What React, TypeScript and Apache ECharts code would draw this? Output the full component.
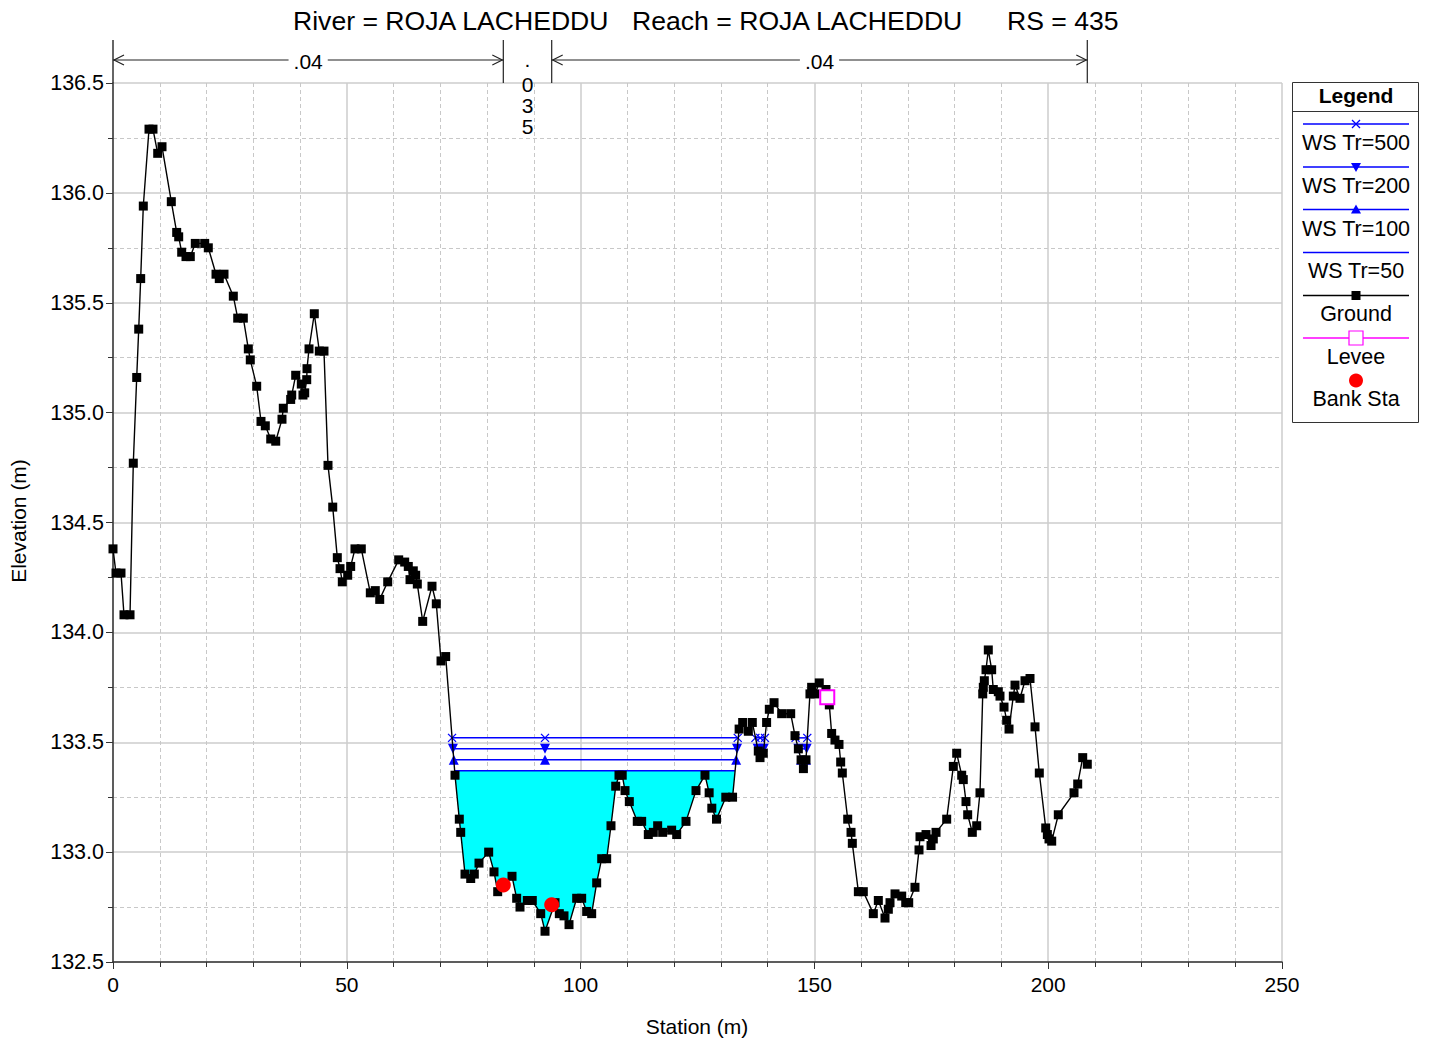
import React, { useEffect, useRef } from "react";
import * as echarts from "echarts";

const FONT = "'Liberation Sans', Arial, Helvetica, sans-serif";

// Ground profile (station m, elevation m)
const groundSta = [
  0.0, 0.64, 1.71, 2.35, 3.64, 4.34, 5.07, 5.5, 5.92, 6.48, 7.7, 8.55, 9.56, 10.48, 12.47, 13.62, 14.05, 14.69, 15.61, 16.53,
  17.6, 19.61, 20.38, 22.03, 22.73, 23.74, 25.73, 26.67, 27.87, 28.94, 29.36, 30.73, 31.65, 32.57, 33.73, 34.8, 36.14, 36.42, 38.0, 38.22,
  39.07, 40.27, 40.63, 41.0, 41.43, 41.49, 41.92, 43.05, 44.12, 45.12, 45.98, 46.99, 47.97, 48.55, 49.04, 50.19, 50.83, 51.75, 53.1, 55.03,
  56.09, 57.04, 58.75, 61.1, 62.38, 63.15, 63.52, 64.22, 64.73, 65.08, 66.23, 68.22, 69.14, 70.15, 71.15, 73.14, 74.06, 74.36, 75.28, 76.5,
  77.27, 78.27, 80.34, 81.48, 82.27, 85.33, 86.33, 87.04, 88.6, 89.67, 91.47, 92.39, 94.53, 95.45, 96.45, 97.52, 99.16, 100.23, 101.3, 102.37,
  103.44, 104.51, 105.58, 106.5, 107.51, 108.21, 108.9, 109.5, 110.42, 112.12, 113.06, 114.48, 115.55, 116.48, 117.55, 119.47, 120.55, 122.54, 124.68, 126.6,
  127.49, 128.06, 129.06, 131.05, 132.5, 133.9, 134.66, 135.87, 136.72, 138.0, 138.37, 139.07, 139.78, 140.36, 141.37, 143.0, 144.93, 145.85, 146.57, 147.15,
  147.65, 148.2, 149.05, 149.41, 150.11, 151.04, 152.47, 153.19, 153.69, 154.4, 155.26, 155.62, 155.97, 157.12, 157.83, 158.11, 159.4, 160.46, 162.6, 163.67,
  165.1, 165.81, 166.17, 167.24, 168.67, 169.53, 170.17, 171.51, 172.37, 172.58, 173.87, 174.94, 175.43, 176.01, 178.29, 179.71, 180.43, 181.5, 181.84, 182.42,
  182.78, 183.77, 184.71, 185.41, 186.0, 186.12, 186.34, 186.7, 187.19, 187.91, 188.26, 189.33, 189.69, 190.55, 191.12, 191.62, 192.54, 192.9, 193.97, 195.04,
  196.11, 197.18, 198.1, 199.47, 199.82, 200.17, 200.75, 202.16, 205.52, 206.31, 207.38, 208.36,
];
const groundElev = [
  134.38, 134.27, 134.27, 134.08, 134.08, 134.77, 135.16, 135.38, 135.61, 135.94, 136.29, 136.29, 136.18, 136.21, 135.96, 135.82, 135.8, 135.73, 135.71, 135.71,
  135.77, 135.77, 135.75, 135.63, 135.61, 135.63, 135.53, 135.43, 135.43, 135.29, 135.24, 135.12, 134.96, 134.94, 134.88, 134.87, 134.97, 135.02, 135.06, 135.08,
  135.17, 135.13, 135.08, 135.09, 135.15, 135.2, 135.29, 135.45, 135.28, 135.28, 134.76, 134.57, 134.34, 134.29, 134.23, 134.26, 134.3, 134.38, 134.38, 134.18,
  134.19, 134.15, 134.23, 134.33, 134.32, 134.3, 134.24, 134.28, 134.26, 134.22, 134.05, 134.21, 134.13, 133.87, 133.89, 133.35, 133.15, 133.09, 132.9, 132.88,
  132.9, 132.95, 133.0, 132.91, 132.82, 132.89, 132.79, 132.75, 132.78, 132.78, 132.72, 132.64, 132.77, 132.72, 132.71, 132.67, 132.79, 132.79, 132.73, 132.72,
  132.86, 132.97, 132.97, 133.12, 133.3, 133.35, 133.35, 133.28, 133.23, 133.14, 133.14, 133.08, 133.09, 133.12, 133.09, 133.1, 133.08, 133.14, 133.28, 133.35,
  133.27, 133.2, 133.15, 133.25, 133.25, 133.56, 133.59, 133.55, 133.59, 133.46, 133.43, 133.45, 133.59, 133.65, 133.68, 133.63, 133.63, 133.53, 133.47, 133.42,
  133.38, 133.42, 133.72, 133.75, 133.72, 133.77, 133.74, 133.67, 133.54, 133.51, 133.49, 133.41, 133.36, 133.15, 133.09, 133.04, 132.82, 132.82, 132.72, 132.78,
  132.7, 132.74, 132.77, 132.81, 132.8, 132.77, 132.77, 132.84, 133.01, 133.07, 133.08, 133.03, 133.06, 133.09, 133.15, 133.39, 133.45, 133.35, 133.33, 133.23,
  133.17, 133.09, 133.12, 133.27, 133.72, 133.75, 133.78, 133.83, 133.92, 133.83, 133.74, 133.73, 133.71, 133.66, 133.6, 133.56, 133.71, 133.76, 133.7, 133.78,
  133.79, 133.57, 133.36, 133.11, 133.08, 133.06, 133.05, 133.17, 133.27, 133.31, 133.43, 133.4,
];

// Bank stations and levee
const bankSta = [83.47, 93.82];
const bankElev = [132.85, 132.76];
const leveeSta = [152.75];
const leveeElev = [133.705];

// Water surfaces: Tr=500, 200, 100, 50
const wsNames = ["WS Tr=500", "WS Tr=200", "WS Tr=100", "WS Tr=50"];
const wsLevels = [133.52, 133.47, 133.42, 133.37];
const wsSegments = [
  [[72.51, 92.39, 133.6], [137.39, 138.4, 139.43], [145.97, 148.48]],
  [[72.7, 92.39, 133.45], [137.87, 139.17], [146.57, 148.34]],
  [[72.88, 92.39, 133.27], [147.15, 148.2]],
  [[73.07, 133.0]],
];
const fillRange = [73.07, 133.0];

// Manning's n header
const nBreaks = [0, 83.47, 93.82, 208.36];
const nValues = [".04", ".035", ".04"];

// Axes
const xTicks = { min: 0, max: 250, interval: 50 };
const yTicks = { min: 132.5, max: 136.5, interval: 0.5 };

const BLUE = "#0000FF";
const XPATH = "path://M0,0L10,10M10,0L0,10";

function App() {
  const ref = useRef<HTMLDivElement>(null);
  useEffect(() => {
    if (!ref.current) return;
    const chart = echarts.init(ref.current, undefined, { renderer: "svg" });

    const series: any[] = [];

    // WS Tr=50 cyan fill
    series.push({
      type: "custom",
      silent: true,
      z: 1,
      data: [[fillRange[0], wsLevels[3]]],
      renderItem: (_p: any, api: any) => {
        const ws = wsLevels[3];
        const [a, b] = fillRange;
        const pts: number[][] = [api.coord([a, ws]), api.coord([b, ws])];
        for (let i = groundSta.length - 1; i >= 0; i--) {
          const s = groundSta[i];
          if (s > a && s < b) pts.push(api.coord([s, Math.min(groundElev[i], ws)]));
        }
        return { type: "polygon", shape: { points: pts }, style: { fill: "#00FFFF" } };
      },
    });

    const wsSym = [
      { symbol: XPATH, size: 8, rotate: 0 },
      { symbol: "triangle", size: 10, rotate: 180 },
      { symbol: "triangle", size: 10, rotate: 0 },
      { symbol: "none", size: 0, rotate: 0 },
    ];
    wsSegments.forEach((segs, k) => {
      segs.forEach((seg) => {
        series.push({
          type: "line",
          z: 3,
          silent: true,
          data: seg.map((s) => [s, wsLevels[k]]),
          symbol: wsSym[k].symbol,
          symbolSize: wsSym[k].size,
          symbolRotate: wsSym[k].rotate,
          showSymbol: k < 3,
          lineStyle: { color: BLUE, width: 1.5 },
          itemStyle: { color: BLUE, borderColor: BLUE, borderWidth: k === 0 ? 1.3 : 0 },
        });
      });
    });

    // Ground
    series.push({
      type: "line",
      z: 4,
      silent: true,
      data: groundSta.map((s, i) => [s, groundElev[i]]),
      symbol: "rect",
      symbolSize: 9,
      lineStyle: { color: "#000", width: 1.4 },
      itemStyle: { color: "#000" },
    });

    // Levee
    series.push({
      type: "scatter",
      z: 5,
      silent: true,
      data: leveeSta.map((s, i) => [s, leveeElev[i]]),
      symbol: "emptyRect",
      symbolSize: 14,
      itemStyle: { color: "#FF00FF", borderColor: "#FF00FF", borderWidth: 1.2, opacity: 1 },
    });

    // Bank stations
    series.push({
      type: "scatter",
      z: 6,
      silent: true,
      data: bankSta.map((s, i) => [s, bankElev[i]]),
      symbol: "circle",
      symbolSize: 15,
      itemStyle: { color: "#FF0000", opacity: 1 },
    });

    // Manning's n header
    series.push({
      type: "custom",
      silent: true,
      clip: false,
      z: 7,
      data: nValues.map((_v, i) => [nBreaks[i], nBreaks[i + 1], yTicks.max, i]),
      encode: { x: [0, 1], y: 2 },
      renderItem: (_p: any, api: any) => {
        const i = api.value(3);
        const x0 = api.coord([api.value(0), yTicks.max])[0];
        const x1 = api.coord([api.value(1), yTicks.max])[0];
        const top = api.coord([0, yTicks.max])[1];
        const yLine = top - 23;
        const yTop = top - 43;
        const stroke = { stroke: "#222", lineWidth: 1.2 };
        const children: any[] = [];
        if (i === 0) {
          children.push({ type: "line", shape: { x1: x0, y1: yTop, x2: x0, y2: top }, style: { stroke: "#333", lineWidth: 1.5 } });
        }
        children.push({ type: "line", shape: { x1: x1, y1: yTop, x2: x1, y2: top }, style: stroke });
        const label = nValues[i];
        if (x1 - x0 > 60) {
          children.push({ type: "line", shape: { x1: x0, y1: yLine, x2: x1, y2: yLine }, style: stroke });
          children.push({
            type: "polyline",
            shape: { points: [[x0 + 11, yLine - 5], [x0 + 1, yLine], [x0 + 11, yLine + 5]] },
            style: { stroke: "#222", lineWidth: 1.2, fill: null },
          });
          children.push({
            type: "polyline",
            shape: { points: [[x1 - 11, yLine - 5], [x1 - 1, yLine], [x1 - 11, yLine + 5]] },
            style: { stroke: "#222", lineWidth: 1.2, fill: null },
          });
          children.push({
            type: "text",
            x: (x0 + x1) / 2,
            y: yLine + 1,
            style: {
              text: label,
              font: `21px ${FONT}`,
              fill: "#000",
              align: "center",
              verticalAlign: "middle",
              backgroundColor: "#fff",
              padding: [0, 5],
            },
          });
        } else {
          const chars = label.split("");
          const ys = [yLine - 1, yLine + 24, yLine + 45, yLine + 66];
          chars.forEach((c: string, j: number) => {
            children.push({
              type: "text",
              x: (x0 + x1) / 2,
              y: ys[j],
              style: { text: c, font: `21px ${FONT}`, fill: "#000", align: "center", verticalAlign: "middle" },
            });
          });
        }
        return { type: "group", children };
      },
    });

    // Legend graphic
    const LX = 1356;
    const legend: any[] = [
      { type: "rect", shape: { x: 1292.5, y: 82.5, width: 126, height: 340 }, style: { fill: "#fff", stroke: "#333", lineWidth: 1 } },
      { type: "line", shape: { x1: 1292.5, y1: 111.5, x2: 1418.5, y2: 111.5 }, style: { stroke: "#333", lineWidth: 1 } },
      { type: "text", x: LX, y: 95, style: { text: "Legend", font: `bold 21px ${FONT}`, fill: "#000", align: "center", verticalAlign: "middle" } },
    ];
    const lineYs = [124, 167, 209.5, 252.5, 295.5, 338];
    const labelYs = [143, 186, 229, 271, 314, 357];
    const colors = [BLUE, BLUE, BLUE, BLUE, "#000", "#FF00FF"];
    const names = [...wsNames, "Ground", "Levee"];
    names.forEach((n, i) => {
      legend.push({ type: "line", shape: { x1: 1303, y1: lineYs[i], x2: 1409, y2: lineYs[i] }, style: { stroke: colors[i], lineWidth: 1.3 } });
      legend.push({ type: "text", x: LX, y: labelYs[i], style: { text: n, font: `21.5px ${FONT}`, fill: "#000", align: "center", verticalAlign: "middle" } });
    });
    const cy0 = lineYs[0];
    legend.push({ type: "line", shape: { x1: LX - 4, y1: cy0 - 4, x2: LX + 4, y2: cy0 + 4 }, style: { stroke: BLUE, lineWidth: 1.3 } });
    legend.push({ type: "line", shape: { x1: LX - 4, y1: cy0 + 4, x2: LX + 4, y2: cy0 - 4 }, style: { stroke: BLUE, lineWidth: 1.3 } });
    const cy1 = lineYs[1];
    legend.push({ type: "polygon", shape: { points: [[LX - 5, cy1 - 4], [LX + 5, cy1 - 4], [LX, cy1 + 5]] }, style: { fill: BLUE } });
    const cy2 = lineYs[2];
    legend.push({ type: "polygon", shape: { points: [[LX - 5, cy2 + 4], [LX + 5, cy2 + 4], [LX, cy2 - 5]] }, style: { fill: BLUE } });
    legend.push({ type: "rect", shape: { x: LX - 4.5, y: lineYs[4] - 4.5, width: 9, height: 9 }, style: { fill: "#000" } });
    legend.push({ type: "rect", shape: { x: LX - 7, y: lineYs[5] - 7, width: 14, height: 14 }, style: { fill: "#fff", stroke: "#FF00FF", lineWidth: 1.2 } });
    legend.push({ type: "circle", shape: { cx: LX, cy: 380.5, r: 7 }, style: { fill: "#FF0000" } });
    legend.push({ type: "text", x: LX, y: 399, style: { text: "Bank Sta", font: `21.5px ${FONT}`, fill: "#000", align: "center", verticalAlign: "middle" } });

    const titleStyle = (t: string) => ({ text: t, font: `26.6px ${FONT}`, fill: "#000", align: "left", verticalAlign: "middle" });

    chart.setOption({
      animation: false,
      backgroundColor: "#fff",
      textStyle: { fontFamily: FONT },
      grid: { left: 113, right: 148, top: 83, bottom: 82, containLabel: false },
      xAxis: {
        type: "value",
        min: xTicks.min,
        max: xTicks.max,
        interval: xTicks.interval,
        axisLine: { onZero: false, lineStyle: { color: "#333", width: 1.5 } },
        axisTick: { show: true, length: 7, lineStyle: { color: "#333" } },
        minorTick: { show: true, splitNumber: 5, length: 5, lineStyle: { color: "#333" } },
        splitLine: { show: true, lineStyle: { color: "#cccccc", width: 1.5 } },
        minorSplitLine: { show: true, lineStyle: { color: "#c8c8c8", width: 1, type: [4, 3] } },
        axisLabel: { color: "#000", fontSize: 21, fontFamily: FONT, margin: 12 },
      },
      yAxis: {
        type: "value",
        min: yTicks.min,
        max: yTicks.max,
        interval: yTicks.interval,
        axisLine: { show: true, onZero: false, lineStyle: { color: "#333", width: 1.5 } },
        axisTick: { show: true, length: 7, lineStyle: { color: "#333" } },
        minorTick: { show: true, splitNumber: 2, length: 5, lineStyle: { color: "#333" } },
        splitLine: { show: true, lineStyle: { color: "#cccccc", width: 1.5 } },
        minorSplitLine: { show: true, lineStyle: { color: "#c8c8c8", width: 1, type: [4, 3] } },
        axisLabel: { color: "#000", fontSize: 21.5, fontFamily: FONT, margin: 9, formatter: (v: number) => v.toFixed(1) },
      },
      graphic: [
        { type: "text", x: 293, y: 21, style: titleStyle("River = ROJA LACHEDDU") },
        { type: "text", x: 632, y: 21, style: titleStyle("Reach = ROJA LACHEDDU") },
        { type: "text", x: 1007, y: 21, style: titleStyle("RS = 435") },
        { type: "text", x: 697, y: 1026, style: { text: "Station (m)", font: `21px ${FONT}`, fill: "#000", align: "center", verticalAlign: "middle" } },
        { type: "text", x: 18, y: 521, rotation: Math.PI / 2, style: { text: "Elevation (m)", font: `21px ${FONT}`, fill: "#000", align: "center", verticalAlign: "middle" } },
        { type: "group", children: legend },
      ],
      series,
    });

    return () => chart.dispose();
  }, []);

  return <div ref={ref} style={{ position: "fixed", left: 0, top: 0, width: 1430, height: 1044, background: "#fff" }} />;
}

export default App;
